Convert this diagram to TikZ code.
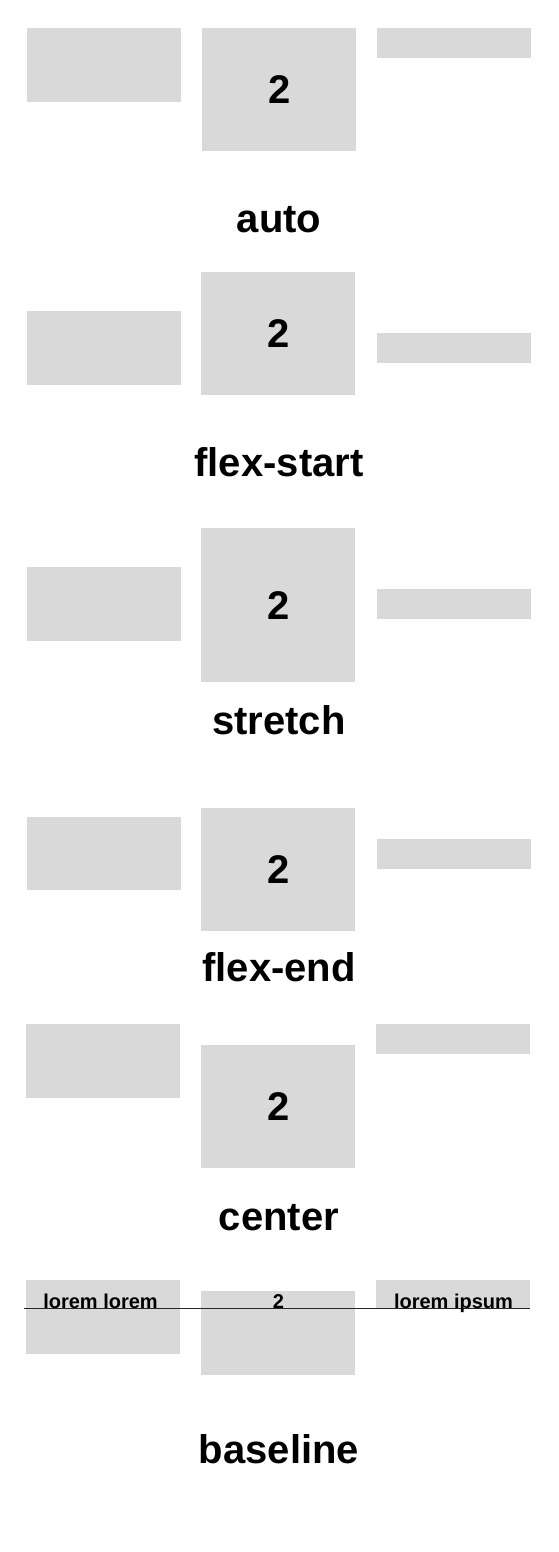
\documentclass[tikz,border=0pt]{standalone}
\usepackage{fontspec}
\setmainfont{Liberation Sans}
\usepackage{xcolor}
\definecolor{boxgray}{HTML}{D9D9D9}
\tikzstyle{item} = [fill=boxgray, rectangle, inner sep=0pt,
    minimum width=154pt, anchor=north west]
\tikzstyle{bigtitle} = [inner sep=0pt, anchor=base,
    font=\fontsize{40}{48}\selectfont\bfseries]
\tikzstyle{smalltext} = [inner sep=0pt, anchor=base,
    font=\fontsize{20}{24}\selectfont\bfseries]

\begin{document}
\begin{tikzpicture}[x=1pt, y=-1pt]
    \useasboundingbox[fill=white] (0,0) rectangle (558,1552);
    % auto
    \node[item, minimum height=74pt] (autoL) at (27,28) {};
    \node[item, minimum height=123pt, font=\fontsize{40}{48}\selectfont\bfseries] (autoM) at (202,28) {2};
    \node[item, minimum height=30pt] (autoR) at (377,28) {};
    \node[bigtitle] (autoT) at (279,232) {auto};
    % flex-start
    \node[item, minimum height=74pt] (startL) at (27,311) {};
    \node[item, minimum height=123pt, font=\fontsize{40}{48}\selectfont\bfseries] (startM) at (201,272) {2};
    \node[item, minimum height=30pt] (startR) at (377,333) {};
    \node[bigtitle] (startT) at (279,476) {flex-start};
    % stretch
    \node[item, minimum height=74pt] (stretchL) at (27,567) {};
    \node[item, minimum height=154pt, font=\fontsize{40}{48}\selectfont\bfseries] (stretchM) at (201,528) {2};
    \node[item, minimum height=30pt] (stretchR) at (377,589) {};
    \node[bigtitle] (stretchT) at (279,734) {stretch};
    % flex-end
    \node[item, minimum height=73pt] (endL) at (27,817) {};
    \node[item, minimum height=123pt, font=\fontsize{40}{48}\selectfont\bfseries] (endM) at (201,808) {2};
    \node[item, minimum height=30pt] (endR) at (377,839) {};
    \node[bigtitle] (endT) at (279,981) {flex-end};
    % center
    \node[item, minimum height=74pt] (centerL) at (26,1024) {};
    \node[item, minimum height=123pt, font=\fontsize{40}{48}\selectfont\bfseries] (centerM) at (201,1045) {2};
    \node[item, minimum height=30pt] (centerR) at (376,1024) {};
    \node[bigtitle] (centerT) at (279,1230) {center};
    % baseline
    \node[item, minimum height=74pt] (baseL) at (26,1280) {};
    \node[item, minimum height=84pt] (baseM) at (201,1291) {};
    \node[item, minimum height=29pt] (baseR) at (376,1280) {};
    \coordinate (lineL) at (24,1308.5);
    \coordinate (lineR) at (530,1308.5);
    \draw[line width=1pt, black!85] (lineL) -- (lineR);
    \node[smalltext] (baseLtext) at (100.5,1308.5) {lorem lorem};
    \node[smalltext] (baseMtext) at (278.5,1308.5) {2};
    \node[smalltext] (baseRtext) at (453.5,1308.5) {lorem ipsum};
    \node[bigtitle] (baseT) at (279,1463) {baseline};
\end{tikzpicture}
\end{document}
